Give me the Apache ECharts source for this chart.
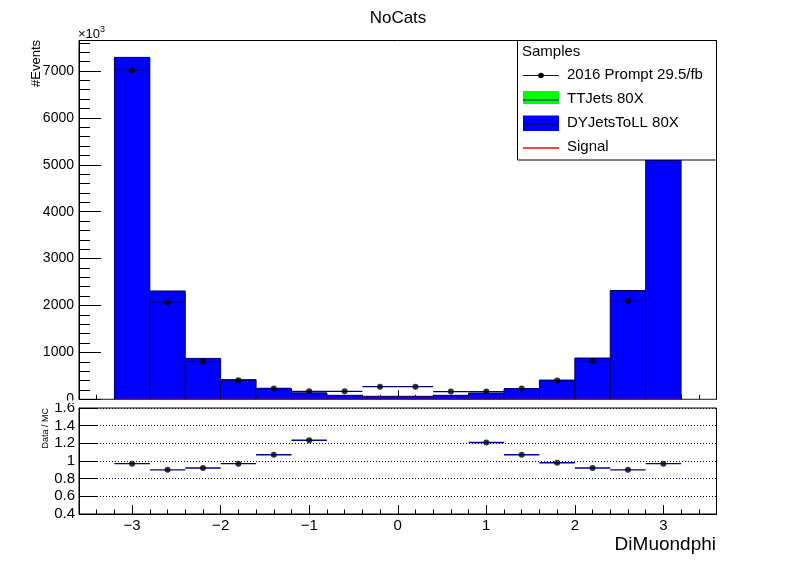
<!DOCTYPE html>
<html>
<head>
<meta charset="utf-8">
<script src="https://cdn.jsdelivr.net/npm/echarts@6/dist/echarts.min.js"></script>
<style>html,body{margin:0;padding:0;background:#fff}#c{width:796px;height:572px}</style>
</head>
<body>
<div id="c"></div>
<script>
// ---- data ----
const binEdges = [-3.2,-2.8,-2.4,-2.0,-1.6,-1.2,-0.8,-0.4,0.0,0.4,0.8,1.2,1.6,2.0,2.4,2.8,3.2];
const dyJets   = [7290,2310,872,418,218,138,85,64,64,85,135,215,410,880,2320,7290];
const ttJets   = [0,0,0,0,0,0,0,0,0,0,0,0,0,0,0,0];
const signal   = [0,0,0,0,0,0,0,0,0,0,0,0,0,0,0,0];
const dataCounts = [7020,2070,802,405,232,170,170,270,270,165,165,229,400,810,2090,7060];
const ratioVals  = [0.97,0.90,0.92,0.97,1.07,1.235,null,null,null,null,1.21,1.07,0.98,0.92,0.90,0.97];
const xMajorTicks = [-3,-2,-1,0,1,2,3];
const topYTicks   = [0,1000,2000,3000,4000,5000,6000,7000];
const ratioYTicks = [0.4,0.6,0.8,1.0,1.2,1.4,1.6];

const FF = '"Liberation Sans", Arial, Helvetica, sans-serif';

// ---- build series data ----
const barData = [], ttData = [], sigData = [], dataErr = [], dataPts = [], ratioErr = [], ratioPts = [];
for (let i = 0; i < dyJets.length; i++) {
  const x0 = binEdges[i], x1 = binEdges[i+1], xc = (x0 + x1) / 2;
  barData.push([x0, x1, dyJets[i]]);
  ttData.push([x0, x1, ttJets[i]]);
  sigData.push([x0, x1, signal[i]]);
  dataErr.push([x0, x1, dataCounts[i]]);
  dataPts.push([xc, dataCounts[i]]);
  if (ratioVals[i] !== null) {
    ratioErr.push([x0, x1, ratioVals[i]]);
    ratioPts.push([xc, ratioVals[i]]);
  }
}

function rectItem(color, stroke) {
  return function (params, api) {
    const p0 = api.coord([api.value(0), api.value(2)]);
    const p1 = api.coord([api.value(1), 0]);
    return {
      type: 'rect',
      shape: { x: p0[0], y: p0[1], width: p1[0] - p0[0], height: p1[1] - p0[1] },
      style: { fill: color, stroke: stroke, lineWidth: stroke ? 1 : 0 }
    };
  };
}
function hLineItem(color, width) {
  return function (params, api) {
    const p0 = api.coord([api.value(0), api.value(2)]);
    const p1 = api.coord([api.value(1), api.value(2)]);
    return {
      type: 'line',
      shape: { x1: p0[0], y1: p0[1], x2: p1[0], y2: p1[1] },
      style: { stroke: color, lineWidth: width }
    };
  };
}
const minus = v => String(v).replace('-', '\u2212');
const plain = v => String(v);

const chart = echarts.init(document.getElementById('c'), null, { renderer: 'canvas' });
const option = {
  animation: false,
  backgroundColor: '#fff',
  title: {
    text: 'NoCats', left: 'center', top: 5,
    textStyle: { fontSize: 17, fontWeight: 'normal', fontFamily: FF, color: '#000' }
  },
  grid: [
    { left: 79, top: 40.5, width: 637.5, height: 358.8, show: true, borderColor: '#000', borderWidth: 1, backgroundColor: 'transparent' },
    { left: 79, top: 408, width: 637.5, height: 106, show: true, borderColor: '#000', borderWidth: 1, backgroundColor: 'transparent' }
  ],
  xAxis: [
    { type: 'value', gridIndex: 0, position: 'bottom', min: -3.6, max: 3.6,
      axisLine: { show: true, onZero: false, lineStyle: { color: '#ff0000', width: 1 } },
      axisTick: { show: true, inside: true, length: 9, customValues: xMajorTicks, lineStyle: { color: '#000' } },
      axisLabel: { show: false }, splitLine: { show: false } },
    { type: 'value', gridIndex: 0, position: 'bottom', min: -3.6, max: 3.6, interval: 0.2,
      axisLine: { show: false, onZero: false },
      axisTick: { show: true, inside: true, length: 4.5, lineStyle: { color: '#000' } },
      axisLabel: { show: false }, splitLine: { show: false } },
    { type: 'value', gridIndex: 1, position: 'bottom', min: -3.6, max: 3.6,
      axisLine: { show: true, onZero: false, lineStyle: { color: '#000', width: 1 } },
      axisTick: { show: true, inside: true, length: 9, customValues: xMajorTicks, lineStyle: { color: '#000' } },
      axisLabel: { show: true, customValues: xMajorTicks, formatter: minus, fontSize: 15, fontFamily: FF, color: '#000', margin: 4 },
      splitLine: { show: false } },
    { type: 'value', gridIndex: 1, position: 'bottom', min: -3.6, max: 3.6, interval: 0.2,
      axisLine: { show: false, onZero: false },
      axisTick: { show: true, inside: true, length: 4.5, lineStyle: { color: '#000' } },
      axisLabel: { show: false }, splitLine: { show: false } }
  ],
  yAxis: [
    { type: 'value', gridIndex: 0, position: 'left', min: 0, max: 7650,
      axisLine: { show: true, onZero: false, lineStyle: { color: '#000' } },
      axisTick: { show: true, inside: true, length: 22, customValues: topYTicks, lineStyle: { color: '#000' } },
      axisLabel: { show: true, customValues: topYTicks, formatter: plain, fontSize: 14, fontFamily: FF, color: '#000', margin: 5 },
      splitLine: { show: false } },
    { type: 'value', gridIndex: 0, position: 'left', min: 0, max: 7650, interval: 200,
      axisLine: { show: false, onZero: false },
      axisTick: { show: true, inside: true, length: 11, lineStyle: { color: '#000' } },
      axisLabel: { show: false }, splitLine: { show: false } },
    { type: 'value', gridIndex: 1, position: 'left', min: 0.4, max: 1.6,
      axisLine: { show: true, onZero: false, lineStyle: { color: '#000' } },
      axisTick: { show: true, inside: true, length: 19, customValues: ratioYTicks, lineStyle: { color: '#000' } },
      axisLabel: { show: true, customValues: ratioYTicks, formatter: plain, fontSize: 15, fontFamily: FF, color: '#000', margin: 4 },
      splitLine: { show: true, lineStyle: { color: '#000', type: [1, 2], width: 1 } } }
  ],
  series: [
    { name: 'DYJetsToLL 80X', type: 'custom', xAxisIndex: 0, yAxisIndex: 0,
      renderItem: rectItem('#0000ff', '#000055'), encode: { x: [0, 1], y: 2 }, data: barData, z: 2 },
    { name: 'TTJets 80X', type: 'custom', xAxisIndex: 0, yAxisIndex: 0,
      renderItem: rectItem('#00ff00', null), encode: { x: [0, 1], y: 2 }, data: ttData, z: 3 },
    { name: 'Signal', type: 'custom', xAxisIndex: 0, yAxisIndex: 0,
      renderItem: hLineItem('#ff0000', 1), encode: { x: [0, 1], y: 2 }, data: sigData, z: 4 },
    { name: '2016 Prompt 29.5/fb', type: 'custom', xAxisIndex: 0, yAxisIndex: 0,
      renderItem: hLineItem('#00008a', 1.2), encode: { x: [0, 1], y: 2 }, data: dataErr, z: 5 },
    { name: '2016 Prompt 29.5/fb', type: 'scatter', xAxisIndex: 0, yAxisIndex: 0,
      symbol: 'circle', symbolSize: 6, itemStyle: { color: '#000' }, data: dataPts, z: 6 },
    { name: 'Data / MC', type: 'custom', xAxisIndex: 2, yAxisIndex: 2,
      renderItem: hLineItem('#0000a0', 1.4), encode: { x: [0, 1], y: 2 }, data: ratioErr, z: 5 },
    { name: 'Data / MC', type: 'scatter', xAxisIndex: 2, yAxisIndex: 2,
      symbol: 'circle', symbolSize: 6, itemStyle: { color: '#000' }, data: ratioPts, z: 6 }
  ],
  graphic: [
    { type: 'rect', shape: { x: 0, y: 400.5, width: 78, height: 2.5 }, style: { fill: '#fff' }, z: 100 },
    { type: 'text', x: 36, y: 40, rotation: Math.PI / 2,
      style: { text: '#Events', fontSize: 13, fontFamily: FF, fill: '#000', align: 'right', verticalAlign: 'middle' } },
    { type: 'text', x: 46, y: 408, rotation: Math.PI / 2,
      style: { text: 'Data / MC', fontSize: 9, fontFamily: FF, fill: '#000', align: 'right', verticalAlign: 'middle' } },
    { type: 'text', x: 78, y: 34,
      style: { text: '\u00d710{s|3}', fontSize: 13, fontFamily: FF, fill: '#000', align: 'left', verticalAlign: 'middle',
        rich: { s: { fontSize: 9, fontFamily: FF, verticalAlign: 'top', padding: [0, 0, 8, 0] } } } },
    { type: 'text', x: 716, y: 545,
      style: { text: 'DiMuondphi', fontSize: 19, fontFamily: FF, fill: '#000', align: 'right', verticalAlign: 'middle' } },
    // legend
    { type: 'rect', shape: { x: 517.5, y: 40.5, width: 199, height: 119.5 }, style: { fill: '#fff', stroke: '#000', lineWidth: 1 }, z: 50 },
    { type: 'text', x: 522, y: 52, style: { text: 'Samples', fontSize: 15, fontFamily: FF, fill: '#000', verticalAlign: 'middle' }, z: 51 },
    { type: 'line', shape: { x1: 523, y1: 75.5, x2: 559, y2: 75.5 }, style: { stroke: '#0000b0', lineWidth: 1.2 }, z: 51 },
    { type: 'circle', shape: { cx: 541, cy: 75.5, r: 2.8 }, style: { fill: '#000' }, z: 52 },
    { type: 'text', x: 567, y: 75, style: { text: '2016 Prompt 29.5/fb', fontSize: 15, fontFamily: FF, fill: '#000', verticalAlign: 'middle' }, z: 51 },
    { type: 'rect', shape: { x: 523, y: 91, width: 36, height: 13 }, style: { fill: '#00ff00' }, z: 51 },
    { type: 'line', shape: { x1: 523, y1: 100, x2: 559, y2: 100 }, style: { stroke: '#0000b0', lineWidth: 1 }, z: 52 },
    { type: 'text', x: 567, y: 99, style: { text: 'TTJets 80X', fontSize: 15, fontFamily: FF, fill: '#000', verticalAlign: 'middle' }, z: 51 },
    { type: 'rect', shape: { x: 523, y: 115.5, width: 36, height: 15.5 }, style: { fill: '#0000ff' }, z: 51 },
    { type: 'line', shape: { x1: 523, y1: 124, x2: 559, y2: 124 }, style: { stroke: '#000033', lineWidth: 1 }, z: 52 },
    { type: 'text', x: 567, y: 123, style: { text: 'DYJetsToLL 80X', fontSize: 15, fontFamily: FF, fill: '#000', verticalAlign: 'middle' }, z: 51 },
    { type: 'line', shape: { x1: 523, y1: 148, x2: 559, y2: 148 }, style: { stroke: '#ff0000', lineWidth: 1.5 }, z: 51 },
    { type: 'text', x: 567, y: 147, style: { text: 'Signal', fontSize: 15, fontFamily: FF, fill: '#000', verticalAlign: 'middle' }, z: 51 }
  ]
};
chart.setOption(option);
</script>
</body>
</html>
